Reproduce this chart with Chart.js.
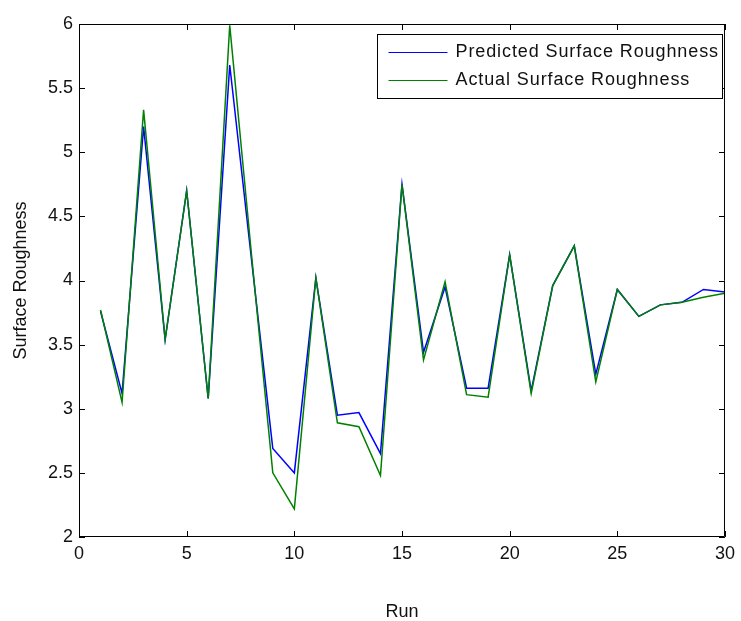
<!DOCTYPE html>
<html>
<head>
<meta charset="utf-8">
<script src="https://cdn.jsdelivr.net/npm/chart.js@4/dist/chart.umd.min.js"></script>
<style>
  html, body { margin: 0; padding: 0; background: #fff; }
  canvas { display: block; }
</style>
</head>
<body>
<canvas id="chartRugosidad" width="741" height="621"></canvas>
<script>
// ----------------------------------------------------------
// Datos leídos de la figura: rugosidad predicha vs real por corrida
// ----------------------------------------------------------
const runs = [1, 2, 3, 4, 5, 6, 7, 8, 9, 10, 11, 12, 13, 14, 15,
              16, 17, 18, 19, 20, 21, 22, 23, 24, 25, 26, 27, 28, 29, 30];
const predicted = [3.76, 3.12, 5.20, 3.54, 4.70, 3.08, 5.68, 4.18, 2.69, 2.50,
                   4.02, 2.95, 2.97, 2.65, 4.75, 3.44, 3.95, 3.16, 3.16, 4.20,
                   3.14, 3.96, 4.27, 3.27, 3.93, 3.72, 3.81, 3.83, 3.93, 3.91];
const actual = [3.77, 3.05, 5.33, 3.54, 4.70, 3.08, 5.99, 4.22, 2.50, 2.22,
                4.02, 2.89, 2.86, 2.48, 4.75, 3.38, 3.99, 3.11, 3.09, 4.20,
                3.12, 3.96, 4.27, 3.21, 3.93, 3.72, 3.81, 3.83, 3.87, 3.90];
const xTicks = [0, 5, 10, 15, 20, 25, 30];
const yTicks = [2, 2.5, 3, 3.5, 4, 4.5, 5, 5.5, 6];

const fuente = '"Liberation Sans", Arial, sans-serif';
const azul  = '#0000ff';
const verde = '#008000';

// ----------------------------------------------------------
// Plugin: caja completa con marcas hacia dentro (estilo Matlab)
// y leyenda dentro del área del gráfico
// ----------------------------------------------------------
const cajaMatlab = {
    id: 'cajaMatlab',
    afterDatasetsDraw(chart) {
        const { ctx, chartArea: a, scales: { x, y } } = chart;
        const largo = 6;
        ctx.save();
        ctx.strokeStyle = '#000';
        ctx.lineWidth = 1;
        ctx.beginPath();
        ctx.rect(a.left + 0.5, a.top + 0.5, a.right - a.left - 1, a.bottom - a.top - 1);
        xTicks.forEach(v => {
            const px = Math.round(x.getPixelForValue(v)) + 0.5;
            ctx.moveTo(px, a.bottom); ctx.lineTo(px, a.bottom - largo);
            ctx.moveTo(px, a.top); ctx.lineTo(px, a.top + largo);
        });
        yTicks.forEach(v => {
            const py = Math.round(y.getPixelForValue(v)) + 0.5;
            ctx.moveTo(a.left, py); ctx.lineTo(a.left + largo, py);
            ctx.moveTo(a.right, py); ctx.lineTo(a.right - largo, py);
        });
        ctx.stroke();

        // leyenda
        const bx = 377.5, by = 34.5, bw = 345, bh = 64;
        ctx.fillStyle = '#fff';
        ctx.fillRect(bx, by, bw, bh);
        ctx.strokeStyle = '#000';
        ctx.strokeRect(bx, by, bw, bh);
        ctx.font = '18px ' + fuente;
        ctx.letterSpacing = '0.9px';
        ctx.textBaseline = 'middle';
        chart.data.datasets.forEach((ds, i) => {
            const ly = Math.round(by + 17 + i * 28) + 0.5;
            ctx.beginPath();
            ctx.strokeStyle = i === 0 ? azul : verde;
            ctx.lineWidth = 1;
            ctx.moveTo(bx + 11, ly);
            ctx.lineTo(bx + 70, ly);
            ctx.stroke();
            ctx.fillStyle = '#111';
            ctx.fillText(ds.label, bx + 78, ly);
        });
        ctx.restore();
    }
};

new Chart(document.getElementById('chartRugosidad'), {
    type: 'line',
    data: {
        datasets: [{
            label: 'Predicted Surface Roughness',
            data: runs.map((r, i) => ({ x: r, y: predicted[i] })),
            borderColor: azul,
            borderWidth: 1.5,
            pointRadius: 0,
            tension: 0,
            order: 1
        }, {
            label: 'Actual Surface Roughness',
            data: runs.map((r, i) => ({ x: r, y: actual[i] })),
            borderColor: verde,
            borderWidth: 1.5,
            pointRadius: 0,
            tension: 0,
            order: 0
        }]
    },
    options: {
        responsive: false,
        animation: false,
        layout: { padding: { top: 24, right: 10, left: 0, bottom: 0 } },
        plugins: {
            legend: { display: false },
            tooltip: { enabled: false }
        },
        scales: {
            x: {
                type: 'linear',
                min: 0,
                max: 30,
                afterBuildTicks: s => { s.ticks = xTicks.map(v => ({ value: v })); },
                afterFit: s => { s.height = 84; },
                grid: { display: false, drawTicks: false },
                border: { display: false },
                ticks: {
                    color: '#111', font: { family: fuente, size: 18 }, padding: 6, maxRotation: 0,
                    callback: v => String(v)
                },
                title: {
                    display: true, text: 'Run', color: '#111',
                    font: { family: fuente, size: 18 }, padding: { top: 0, bottom: -2 }
                }
            },
            y: {
                min: 2,
                max: 6,
                afterBuildTicks: s => { s.ticks = yTicks.map(v => ({ value: v })); },
                afterFit: s => { s.width = 79; },
                grid: { display: false, drawTicks: false },
                border: { display: false },
                ticks: {
                    color: '#111', font: { family: fuente, size: 18 }, padding: 6,
                    callback: v => String(v)
                },
                title: {
                    display: true, text: 'Surface Roughness', color: '#111',
                    font: { family: fuente, size: 18 }, padding: { top: 10, bottom: 0 }
                }
            }
        }
    },
    plugins: [cajaMatlab]
});
</script>
</body>
</html>
